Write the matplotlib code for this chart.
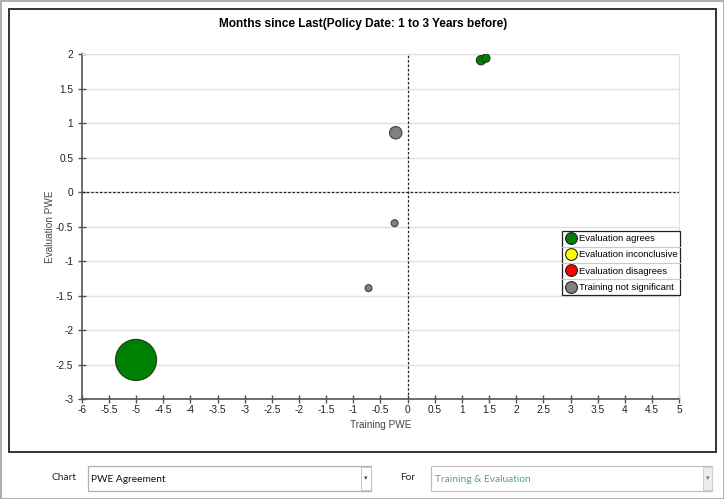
import matplotlib.pyplot as plt
import numpy as np
from matplotlib.patches import Rectangle
from matplotlib.lines import Line2D

plt.rcParams['font.family'] = ['Liberation Sans', 'DejaVu Sans']

# bubble data, per category
agree_x = [-5.0, 1.35, 1.44]
agree_y = [-2.43, 1.91, 1.94]
agree_n = [35, 1.8, 1.4]

notsig_x = [-0.22, -0.24, -0.72]
notsig_y = [0.86, -0.45, -1.39]
notsig_n = [3.2, 1, 1]

legend_labels = ['Evaluation agrees', 'Evaluation inconclusive',
                 'Evaluation disagrees', 'Training not significant']
legend_colors = ['#008000', '#ffff00', '#ff0000', '#808080']

x_ticks = np.arange(-6, 5.01, 0.5)
y_ticks = np.arange(-3, 2.01, 0.5)

W, H = 724, 499
fig = plt.figure(figsize=(W / 100, H / 100), dpi=100)


def frect(x0, y0, x1, y1, **kw):
	# rectangle in pixel coords (top-left origin)
	fig.patches.append(Rectangle((x0 / W, 1 - y1 / H), (x1 - x0) / W, (y1 - y0) / H,
	                             transform=fig.transFigure, figure=fig, **kw))


# window borders
frect(0.5, 0.5, 723.5, 498.5, fill=False, edgecolor='#a0a0a0', lw=1.2)
frect(8.5, 9, 716, 452, fill=False, edgecolor='#333333', lw=1.4)

ax = fig.add_axes([81.7 / W, 1 - 399.3 / H, 597.6 / W, 345.3 / H])
scale = 25
ax.scatter(agree_x, agree_y, s=np.array(agree_n) * scale, c='#008000',
           edgecolors='#1a3a1a', linewidths=0.8, zorder=3)
ax.scatter(notsig_x, notsig_y, s=np.array(notsig_n) * scale, c='#808080',
           edgecolors='#404040', linewidths=0.8, zorder=3)

ax.axhline(0, color='#222222', lw=0.9, ls=(0, (2, 1.5)), zorder=2)
ax.axvline(0, color='#222222', lw=0.9, ls=(0, (2, 1.5)), zorder=2)

ax.set_xlim(-6, 5)
ax.set_ylim(-3, 2)
ax.set_xticks(x_ticks)
ax.set_yticks(y_ticks)
ax.set_xticklabels(['%g' % v for v in x_ticks])
ax.set_yticklabels(['%g' % v for v in y_ticks])
ax.tick_params(direction='inout', length=6, width=1, color='#555555',
               labelsize=7.3, labelcolor='#222222', pad=1)
ax.tick_params(axis='y', pad=3)
ax.grid(axis='y', color='#e0e0e0', lw=1)
ax.set_axisbelow(True)
for s in ['left', 'bottom']:
	ax.spines[s].set_color('#555555')
	ax.spines[s].set_linewidth(1.2)
for s in ['top', 'right']:
	ax.spines[s].set_color('#e0e0e0')

ax.set_xlabel('Training PWE', fontsize=7.2, color='#444444', labelpad=4)
ax.set_ylabel('Evaluation PWE', fontsize=7.2, color='#444444', labelpad=1)
fig.text(363 / W, 1 - 24 / H, 'Months since Last(Policy Date: 1 to 3 Years before)',
         ha='center', va='center', fontsize=8.6, fontweight='bold')

handles = [Line2D([], [], ls='', marker='o', markersize=8.5, markerfacecolor=c,
                  markeredgecolor='#222222', markeredgewidth=0.8) for c in legend_colors]
leg = fig.legend(handles, legend_labels, loc='upper left',
                 bbox_to_anchor=(562 / W, 1 - 231 / H), fontsize=6.8, frameon=True,
                 fancybox=False, edgecolor='#222222', borderpad=0.35, labelspacing=0.76,
                 handletextpad=0.15, handlelength=1.25, borderaxespad=0, framealpha=1)
leg.get_frame().set_linewidth(0.9)

# row separators inside the legend
fig.canvas.draw()
fb = leg.get_frame().get_window_extent()
tb = [t.get_window_extent() for t in leg.get_texts()]
for a, b in zip(tb[:-1], tb[1:]):
	yy = (a.y0 + b.y1) / 2 / H
	fig.add_artist(Line2D([fb.x0 / W, fb.x1 / W], [yy, yy], transform=fig.transFigure,
	                      color='#c8c8c8', lw=0.8, zorder=10))

# bottom selectors
ui_font = ['Lato', 'DejaVu Sans']
fig.text(64 / W, 1 - 477 / H, 'Chart', fontsize=7.3, va='center', ha='center',
         color='#222222', family=ui_font)
frect(88, 466, 371, 491, facecolor='white', edgecolor='#b0b0b0', lw=0.9)
frect(361, 467, 371, 490, facecolor='white', edgecolor='#c8c8c8', lw=0.7)
fig.text(366 / W, 1 - 479 / H, '▾', fontsize=5, ha='center', va='center', color='#444444')
fig.text(91 / W, 1 - 479 / H, 'PWE Agreement', fontsize=7.3, va='center',
         color='#111111', family=ui_font)

fig.text(408 / W, 1 - 477 / H, 'For', fontsize=7.3, va='center', ha='center',
         color='#222222', family=ui_font)
frect(431, 466, 712, 491, facecolor='white', edgecolor='#c0c0c0', lw=0.9)
frect(703, 467, 712, 490, facecolor='#ececec', edgecolor='#d0d0d0', lw=0.7)
fig.text(707.5 / W, 1 - 479 / H, '▾', fontsize=5, ha='center', va='center', color='#777777')
fig.text(435 / W, 1 - 479 / H, 'Training & Evaluation', fontsize=7.3, va='center',
         color='#5f9a96', family=ui_font)

fig.savefig('out.png', dpi=100)
